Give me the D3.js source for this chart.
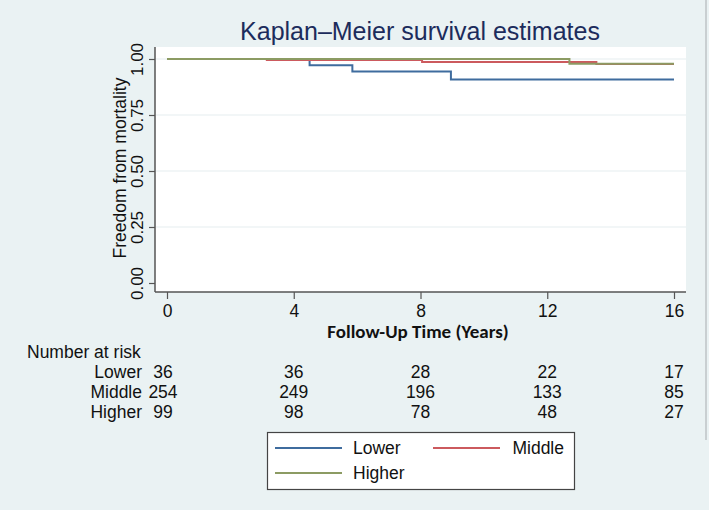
<!DOCTYPE html>
<html><head><meta charset="utf-8">
<script src="https://cdn.jsdelivr.net/npm/d3@7"></script>
<style>body{margin:0;background:#eaf2f3;} svg{display:block;}</style>
</head><body>
<svg id="chart" width="709" height="510"></svg>
<script>
// ---- data ----
const groups = ["Lower", "Middle", "Higher"];
const colors = ["#3f6c9e", "#cc5a5e", "#8c9b63"];
// step times and survival values (KM estimates)
const lowerTimes = [0, 4.5, 5.85, 8.96, 16];
const lowerSurv  = [1.0, 0.972, 0.944, 0.908, 0.908];
const middleTimes = [0, 3.15, 8.05, 13.55, 16];
const middleSurv  = [1.0, 0.996, 0.987, 0.978, 0.978];
const higherTimes = [0, 12.7, 16];
const higherSurv  = [1.0, 0.979, 0.979];
const riskTimes = [0, 4, 8, 12, 16];
const riskLower  = [36, 36, 28, 22, 17];
const riskMiddle = [254, 249, 196, 133, 85];
const riskHigher = [99, 98, 78, 48, 27];
const xTicks = [0, 4, 8, 12, 16];
const yTicks = [0, 0.25, 0.5, 0.75, 1.0];

const svg = d3.select("#chart");
const font = "'Liberation Sans', Arial, Helvetica, sans-serif";
const fs = 17.5;
svg.append("rect").attr("width",709).attr("height",510).attr("fill","#eaf2f3");
svg.append("line").attr("x1",706).attr("x2",706).attr("y1",0).attr("y2",440).attr("stroke","#c9cfd1").attr("stroke-width",2);

const x = d3.scaleLinear().domain([0,16]).range([167,674]);
const y = d3.scaleLinear().domain([0,1]).range([283,59]);

// plot region
svg.append("rect").attr("x",155).attr("y",47).attr("width",531).attr("height",245).attr("fill","#ffffff");
// grid
svg.selectAll(".grid").data(yTicks.filter(d=>d>0)).enter().append("line")
  .attr("x1",156).attr("x2",686).attr("y1",d=>y(d)).attr("y2",d=>y(d))
  .attr("stroke","#e6eeef").attr("stroke-width",1.2);

// axes
const yAxis = d3.axisLeft(y).tickValues(yTicks).tickFormat(d3.format(".2f")).tickSize(6).tickSizeOuter(0);
const gy = svg.append("g").attr("transform","translate(155,0)").call(yAxis);
gy.select(".domain").attr("d","M0,47V292").attr("stroke","#555").attr("stroke-width",1.5);
gy.selectAll(".tick line").attr("stroke","#555").attr("stroke-width",1.2);
gy.selectAll(".tick text").attr("font-family",font).attr("font-size",17).attr("fill","#111")
  .attr("transform","rotate(-90)").attr("x",0).attr("y",-12).attr("dy","0").attr("text-anchor","middle");

const xAxis = d3.axisBottom(x).tickValues(xTicks).tickSize(7).tickSizeOuter(0);
const gx = svg.append("g").attr("transform","translate(0,292)").call(xAxis);
gx.select(".domain").attr("d","M155,0H686").attr("stroke","#555").attr("stroke-width",1.5);
gx.selectAll(".tick line").attr("stroke","#555").attr("stroke-width",1.2);
gx.selectAll(".tick text").attr("font-family",font).attr("font-size",fs).attr("fill","#111").attr("y",25).attr("dy","0");

// titles
svg.append("text").attr("x",420).attr("y",40).attr("text-anchor","middle")
  .attr("font-family",font).attr("font-size",25).attr("fill","#1c2c5c").text("Kaplan–Meier survival estimates");
svg.append("text").attr("transform","translate(126,168) rotate(-90)").attr("text-anchor","middle")
  .attr("font-family",font).attr("font-size",17.5).attr("fill","#111").text("Freedom from mortality");
svg.append("text").attr("x",418).attr("y",338).attr("text-anchor","middle")
  .attr("font-family","Carlito, Calibri, 'Open Sans', sans-serif").attr("font-weight","bold").attr("font-size",19).attr("fill","#111").text("Follow-Up Time (Years)");

// curves
const series = [[lowerTimes,lowerSurv],[middleTimes,middleSurv],[higherTimes,higherSurv]];
const line = d3.line().x(d=>x(d[0])).y(d=>y(d[1])).curve(d3.curveStepAfter);
[0,1,2].forEach(i=>{
  const pts = series[i][0].map((t,j)=>[t,series[i][1][j]]);
  svg.append("path").attr("d",line(pts)).attr("fill","none").attr("stroke",colors[i]).attr("stroke-width",2);
});

// number at risk
svg.append("text").attr("x",27).attr("y",358).attr("font-family",font).attr("font-size",fs).attr("fill","#111").text("Number at risk");
const risks = [riskLower, riskMiddle, riskHigher];
groups.forEach((g,i)=>{
  const by = 378 + i*20;
  svg.append("text").attr("x",142).attr("y",by).attr("text-anchor","end").attr("font-family",font).attr("font-size",fs).attr("fill","#111").text(g);
  svg.selectAll(null).data(riskTimes).enter().append("text")
    .attr("x",(d,j)=> j===0 ? x(d)-4 : x(d)).attr("y",by).attr("text-anchor","middle")
    .attr("font-family",font).attr("font-size",fs).attr("fill","#111")
    .text((d,j)=>risks[i][j]);
});

// legend
svg.append("rect").attr("x",267.5).attr("y",432.5).attr("width",307).attr("height",57)
  .attr("fill","#ffffff").attr("stroke","#444").attr("stroke-width",1.2);
const legPos = [[275,448],[433,448],[275,473]];
groups.forEach((g,i)=>{
  const [lx,ly] = legPos[i];
  svg.append("line").attr("x1",lx).attr("x2",lx+67).attr("y1",ly).attr("y2",ly).attr("stroke",colors[i]).attr("stroke-width",2);
  svg.append("text").attr("x", i===1 ? 564 : lx+78).attr("y",ly+6).attr("text-anchor", i===1?"end":"start")
    .attr("font-family",font).attr("font-size",fs).attr("fill","#111").text(g);
});
</script>
</body></html>
